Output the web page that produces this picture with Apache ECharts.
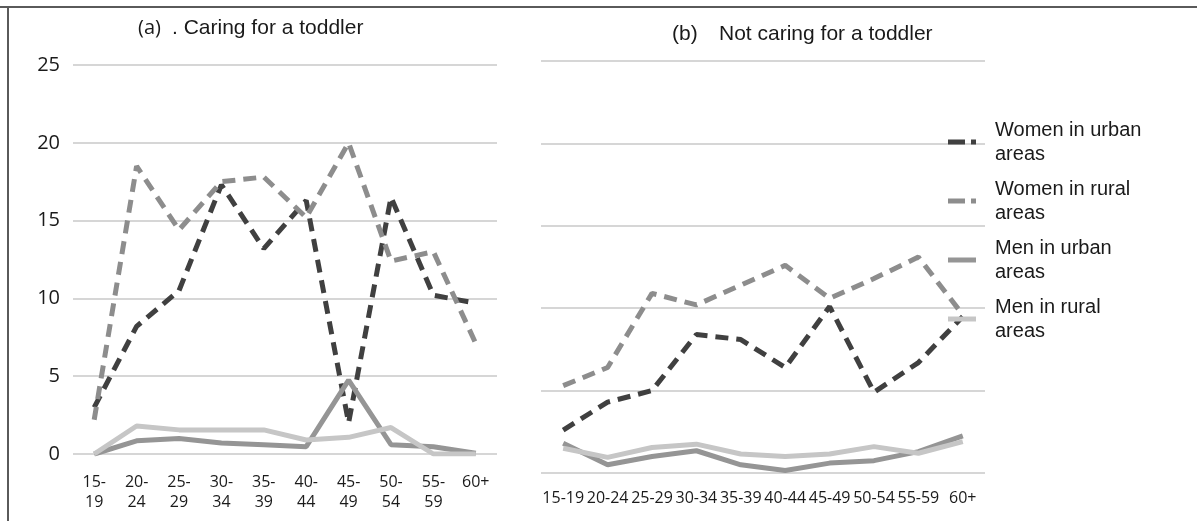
<!DOCTYPE html>
<html><head><meta charset="utf-8">
<script src="https://cdn.jsdelivr.net/npm/echarts@6/dist/echarts.min.js"></script>
<style>html,body{margin:0;padding:0;background:#fff}#c{width:1197px;height:521px}</style>
</head><body><div id="c"></div>
<script>
const categoriesA = ['15-\n19','20-\n24','25-\n29','30-\n34','35-\n39','40-\n44','45-\n49','50-\n54','55-\n59','60+'];
const categoriesB = ['15-19','20-24','25-29','30-34','35-39','40-44','45-49','50-54','55-59','60+'];
const seriesNames = ['Women in urban\nareas','Women in rural\nareas','Men in urban\nareas','Men in rural\nareas'];
const yTicks = [0,5,10,15,20,25];

// (a) Caring for a toddler
const womenUrbanA = [3.0, 8.2, 10.5, 17.3, 13.2, 16.3, 2.0, 16.5, 10.2, 9.7];
const womenRuralA = [2.2, 18.5, 14.4, 17.5, 17.8, 15.2, 20.0, 12.4, 13.0, 7.1];
const menUrbanA   = [0.0, 0.85, 1.0, 0.7, 0.6, 0.47, 4.75, 0.6, 0.47, 0.05];
const menRuralA   = [0.0, 1.8, 1.55, 1.55, 1.55, 0.9, 1.07, 1.7, 0.0, 0.0];

// (b) Not caring for a toddler
const womenUrbanB = [2.6, 4.3, 5.0, 8.4, 8.1, 6.4, 10.1, 4.9, 6.7, 9.5];
const womenRuralB = [5.3, 6.4, 10.9, 10.2, 11.4, 12.6, 10.6, 11.8, 13.1, 9.6];
const menUrbanB   = [1.8, 0.5, 1.0, 1.35, 0.5, 0.15, 0.6, 0.75, 1.3, 2.25];
const menRuralB   = [1.5, 0.95, 1.55, 1.75, 1.15, 1.0, 1.15, 1.6, 1.2, 1.9];

const styles = [
  {color:'#404040', type:[13,8], width:5, icon:'path://M0,0H17V5H0Z M23,0H28V5H23Z'},
  {color:'#8d8d8d', type:[13,8], width:5, icon:'path://M0,0H17V5H0Z M23,0H28V5H23Z'},
  {color:'#959595', type:'solid', width:5, icon:'path://M0,0H28V5H0Z'},
  {color:'#c6c6c6', type:'solid', width:5, icon:'path://M0,0H28V5H0Z'}
];
const dataA = [womenUrbanA, womenRuralA, menUrbanA, menRuralA];
const dataB = [womenUrbanB, womenRuralB, menUrbanB, menRuralB];

const font = "'Liberation Sans', Arial, sans-serif";
const numFont = "'Open Sans', sans-serif";
const series = [];
[dataA, dataB].forEach((set, gi) => {
  set.forEach((d, i) => {
    series.push({
      type:'line', name: seriesNames[i], xAxisIndex: gi, yAxisIndex: gi,
      data: d, symbol:'none', showSymbol:false, smooth:false,
      lineStyle:{color:styles[i].color, type:styles[i].type, width:styles[i].width, cap:'butt'},
      itemStyle:{color:styles[i].color},
      animation:false
    });
  });
});

const chart = echarts.init(document.getElementById('c'));
chart.setOption({
  animation:false,
  backgroundColor:'#fff',
  legend:{
    orient:'vertical', left:943, top:113, itemWidth:28, itemHeight:5, itemGap:11,
    data: seriesNames.map((n, i) => ({
      name:n, icon:styles[i].icon,
      itemStyle:{color:styles[i].color, borderWidth:0, opacity:1}
    })),
    textStyle:{fontFamily:font, fontSize:20, color:'#1a1a1a', lineHeight:24, padding:[0,0,0,14]}
  },
  grid:[
    {left:73, right:700, top:65, bottom:67},
    {left:541, right:212, top:61, bottom:48}
  ],
  xAxis:[
    {type:'category', gridIndex:0, data:categoriesA, boundaryGap:true,
     axisLine:{show:false}, axisTick:{show:false},
     axisLabel:{interval:0, margin:18, fontFamily:numFont, fontSize:16, color:'#1a1a1a', lineHeight:20}},
    {type:'category', gridIndex:1, data:categoriesB, boundaryGap:true,
     axisLine:{show:false}, axisTick:{show:false},
     axisLabel:{interval:0, margin:17, fontFamily:numFont, fontSize:16, color:'#1a1a1a'}}
  ],
  yAxis:[
    {type:'value', gridIndex:0, min:0, max:25, interval:5,
     axisLine:{show:false}, axisTick:{show:false},
     axisLabel:{margin:13, fontFamily:numFont, fontSize:20, color:'#1a1a1a'},
     splitLine:{lineStyle:{color:'#d6d6d6', width:2}}},
    {type:'value', gridIndex:1, min:0, max:25, interval:5,
     axisLine:{show:false}, axisTick:{show:false},
     axisLabel:{show:false},
     splitLine:{lineStyle:{color:'#d6d6d6', width:2}}}
  ],
  graphic:[
    {type:'line', shape:{x1:0, y1:7, x2:1197, y2:7}, style:{stroke:'#5a5a5a', lineWidth:2}},
    {type:'line', shape:{x1:8, y1:6, x2:8, y2:521}, style:{stroke:'#5a5a5a', lineWidth:2}},
    {type:'text', x:138, y:28, style:{text:'(a)', font:"20px 'Open Sans', sans-serif", fill:'#1a1a1a', verticalAlign:'middle'}},
    {type:'text', x:172, y:28, style:{text:'. Caring for a toddler', font:"21px 'Liberation Sans', Arial, sans-serif", fill:'#1a1a1a', verticalAlign:'middle'}},
    {type:'text', x:672, y:34, style:{text:'(b)', font:"21px 'Liberation Sans', Arial, sans-serif", fill:'#1a1a1a', verticalAlign:'middle'}},
    {type:'text', x:719, y:34, style:{text:'Not caring for a toddler', font:"21px 'Liberation Sans', Arial, sans-serif", fill:'#1a1a1a', verticalAlign:'middle'}}
  ],
  series: series
});
</script>
</body></html>
